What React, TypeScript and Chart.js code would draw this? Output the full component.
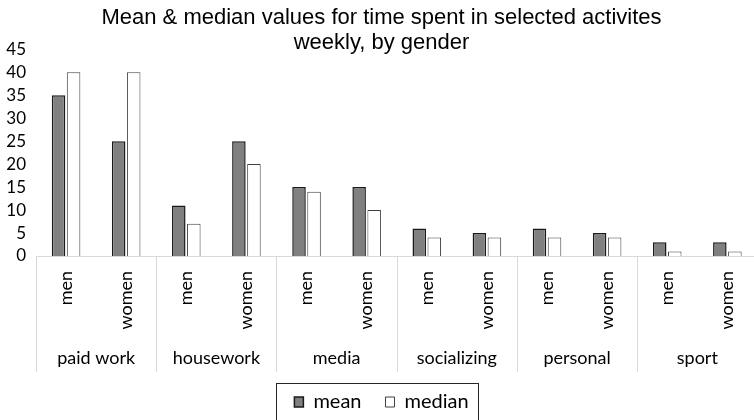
import { useEffect, useRef } from 'react';
import { Chart, registerables } from 'chart.js';

Chart.register(...registerables);

// Activity groups and the two genders shown under each group
const activityGroups = ['paid work', 'housework', 'media', 'socializing', 'personal', 'sport'];
const genders = ['men', 'women'];

// Hours per week, ordered group by group: men, women
const meanHours = [35, 25, 11, 25, 15, 15, 6, 5, 6, 5, 3, 3];
const medianHours = [40, 40, 7, 20, 14, 10, 4, 4, 4, 4, 1, 1];

const yMax = 45;
const yStep = 5;

const titleLines = [
  'Mean & median values for time spent in selected activites',
  'weekly, by gender',
];

const LABEL_FONT = 'Lato, "Open Sans", sans-serif';
const TITLE_FONT = '"Liberation Sans", Arial, sans-serif';

// Vertical separators between activity groups, running through both label rows
const groupSeparators = {
  id: 'groupSeparators',
  afterDraw(chart: any) {
    const x = chart.scales.x;
    const x2 = chart.scales.x2;
    if (!x || !x2) return;
    const ctx = chart.ctx;
    ctx.save();
    ctx.strokeStyle = '#d9d9d9';
    ctx.lineWidth = 1;
    for (let g = 0; g <= activityGroups.length; g++) {
      const px = Math.round(x.getPixelForValue(g * genders.length - 0.5)) + 0.5;
      ctx.beginPath();
      ctx.moveTo(px, x.top);
      ctx.lineTo(px, x2.bottom + 4);
      ctx.stroke();
    }
    ctx.restore();
  },
};

// Thin frame around the legend items
const legendFrame = {
  id: 'legendFrame',
  afterDraw(chart: any) {
    const boxes = chart.legend?.legendHitBoxes;
    if (!boxes || !boxes.length) return;
    const left = Math.min(...boxes.map((b: any) => b.left)) - 18;
    const right = Math.max(...boxes.map((b: any) => b.left + b.width)) + 10;
    const mid = boxes[0].top + boxes[0].height / 2;
    const ctx = chart.ctx;
    ctx.save();
    ctx.strokeStyle = '#262626';
    ctx.lineWidth = 1;
    ctx.strokeRect(Math.round(left) + 0.5, Math.round(mid - 19) + 0.5, Math.round(right - left), 38);
    ctx.restore();
  },
};

export default function App() {
  const canvasRef = useRef<HTMLCanvasElement | null>(null);

  useEffect(() => {
    const canvas = canvasRef.current;
    if (!canvas) return;

    const subLabels = activityGroups.flatMap(() => genders);

    const chart = new Chart(canvas, {
      type: 'bar',
      data: {
        labels: subLabels,
        datasets: [
          {
            label: 'mean',
            data: meanHours,
            backgroundColor: '#808080',
            borderColor: '#1a1a1a',
            borderWidth: 1.5,
            categoryPercentage: 0.5,
            barPercentage: 0.9,
          },
          {
            label: 'median',
            data: medianHours,
            backgroundColor: '#ffffff',
            borderColor: '#404040',
            borderWidth: 1,
            categoryPercentage: 0.5,
            barPercentage: 0.9,
          },
        ],
      },
      options: {
        responsive: false,
        animation: false,
        layout: { padding: { left: 0, right: 1, top: 0, bottom: 0 } },
        scales: {
          y: {
            min: 0,
            max: yMax,
            grid: { display: false, drawTicks: false },
            border: { display: false },
            ticks: {
              stepSize: yStep,
              autoSkip: false,
              padding: 10,
              color: '#000',
              font: { family: LABEL_FONT, size: 17 },
            },
            afterFit(scale: any) {
              scale.width = 36;
            },
          },
          x: {
            type: 'category',
            offset: true,
            grid: { display: false, drawTicks: false },
            border: { display: true, color: '#d9d9d9', width: 1 },
            ticks: {
              autoSkip: false,
              minRotation: 90,
              maxRotation: 90,
              padding: 15,
              color: '#000',
              font: { family: LABEL_FONT, size: 18 },
            },
            afterFit(scale: any) {
              scale.height = 80;
            },
          },
          x2: {
            type: 'category',
            position: 'bottom',
            labels: activityGroups,
            offset: true,
            grid: { display: false, drawTicks: false },
            border: { display: false },
            ticks: {
              autoSkip: false,
              maxRotation: 0,
              padding: 11,
              color: '#000',
              font: { family: LABEL_FONT, size: 18 },
            },
            afterFit(scale: any) {
              scale.height = 32;
            },
          },
        },
        plugins: {
          title: {
            display: true,
            text: titleLines,
            color: '#000',
            font: { family: TITLE_FONT, size: 22, weight: 'normal', lineHeight: 1.12 },
            padding: { top: 6, bottom: -6 },
          },
          legend: {
            display: true,
            position: 'bottom',
            labels: {
              boxWidth: 9,
              boxHeight: 10,
              padding: 24,
              color: '#000',
              font: { family: LABEL_FONT, size: 20 },
            },
          },
          tooltip: { enabled: false },
        },
      },
      plugins: [groupSeparators, legendFrame],
    } as any);

    return () => chart.destroy();
  }, []);

  return (
    <div
      style={{
        position: 'fixed',
        left: 0,
        top: 0,
        width: 754,
        height: 420,
        overflow: 'hidden',
        background: '#fff',
      }}
    >
      <canvas ref={canvasRef} width={764} height={422} style={{ display: 'block' }} />
    </div>
  );
}
